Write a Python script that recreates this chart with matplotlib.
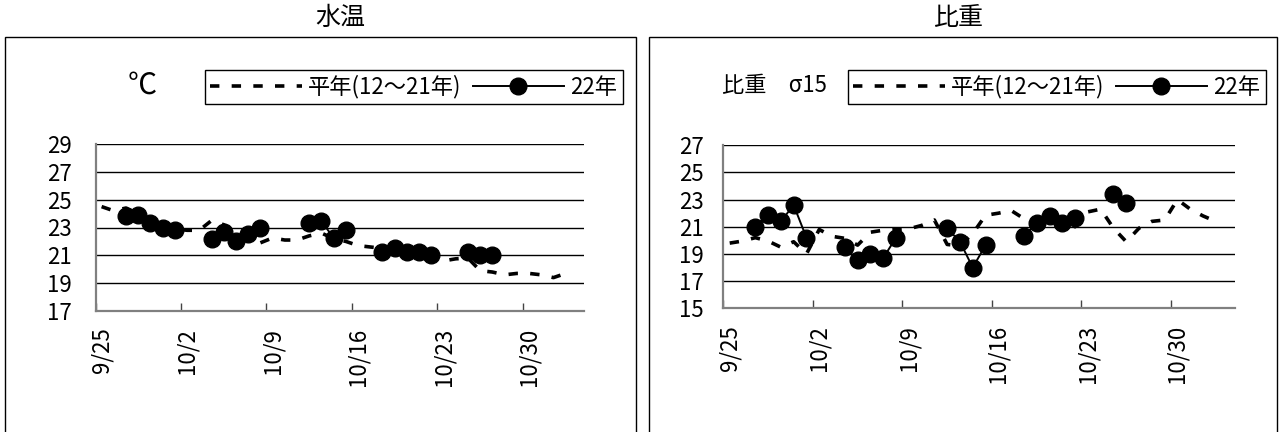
import numpy as np
import matplotlib
matplotlib.use("Agg")
import matplotlib.pyplot as plt
from matplotlib.patches import Rectangle

plt.rcParams['font.family'] = ['Noto Sans CJK JP', 'DejaVu Sans']

# days counted from 9/25 (0) to 11/2 (38)
n_days = 39
tick_days = [0, 7, 14, 21, 28, 35]
tick_labels = ['9/25', '10/2', '10/9', '10/16', '10/23', '10/30']

# 水温 (℃)
temp_avg = [24.5, 24.2, 24.4, 24.0, 23.5, 23.1, 22.9, 22.8, 22.8, 23.5,
            23.2, 22.6, 22.1, 21.9, 22.25, 22.1, 22.1, 22.4, 22.6, 22.2,
            22.0, 21.7, 21.6, 21.5, 21.4, 21.2, 21.0, 20.7, 20.6, 20.75,
            20.8, 19.9, 19.8, 19.6, 19.7, 19.7, 19.6, 19.4, 19.7]
temp_obs_days = [2, 3, 4, 5, 6, 9, 10, 11, 12, 13, 17, 18, 19, 20,
                 23, 24, 25, 26, 27, 30, 31, 32]
temp_obs = [23.8, 23.9, 23.3, 23.0, 22.8, 22.2, 22.7, 22.0, 22.55, 23.0,
            23.3, 23.45, 22.25, 22.85, 21.25, 21.55, 21.25, 21.25, 21.0,
            21.25, 21.0, 21.0]

# 比重 σ15
dens_avg = [19.8, 19.95, 20.2, 19.95, 19.5, 19.9, 19.0, 20.8, 20.3, 20.15,
            19.65, 20.6, 20.75, 20.8, 20.85, 21.1, 21.5, 19.7, 19.6, 20.5,
            21.85, 22.0, 22.2, 21.6, 21.5, 21.4, 21.5, 21.0, 22.1, 22.3,
            20.9, 19.9, 20.9, 21.4, 21.5, 23.0, 22.3, 21.8, 21.4]
dens_obs_days = [2, 3, 4, 5, 6, 9, 10, 11, 12, 13, 17, 18, 19, 20,
                 23, 24, 25, 26, 27, 30, 31]
dens_obs = [21.0, 21.9, 21.4, 22.6, 20.2, 19.5, 18.55, 19.0, 18.7, 20.2,
            20.9, 19.9, 18.0, 19.65, 20.3, 21.3, 21.8, 21.25, 21.65,
            23.45, 22.75]

W, H = 1281, 432
fig = plt.figure(figsize=(W / 100, H / 100), dpi=100)

FS = 16


def fx(px):
    return px / W


def fy(py):
    return 1 - py / H


def panel(box, axbox, avg, obs_days, obs, yticks, title, title_x,
          unit, unit_x, unit_fs, leg_center, ypad):
    # outer frame of each chart
    bx0, by0, bx1 = box
    fig.add_artist(Rectangle((fx(bx0), fy(by0 + 420)), fx(bx1 - bx0), 420 / H,
                             transform=fig.transFigure, fill=False,
                             edgecolor='black', linewidth=1.0))
    fig.text(fx(title_x), fy(18), title, ha='center', va='center',
             fontsize=18)
    fig.text(fx(unit_x), fy(86), unit, ha='left', va='center',
             fontsize=unit_fs)

    l, t, r, b = axbox
    ax = fig.add_axes([fx(l), fy(b), fx(r - l), (b - t) / H])
    x = np.arange(n_days) + 0.5
    y_obs = np.full(n_days, np.nan)
    y_obs[obs_days] = obs

    ax.plot(x, avg, color='black', linewidth=2.6, linestyle=(0, (2.6, 3.4)),
            dash_capstyle='butt', label='平年(12～21年)', zorder=3)
    ax.plot(x, y_obs, color='black', linewidth=1.4, marker='o',
            markersize=12, label='22年', zorder=4)

    ax.set_xlim(0, 40)
    ax.set_ylim(yticks[0], yticks[-1])
    ax.set_yticks(yticks)
    ax.set_yticklabels([str(v) for v in yticks], fontsize=FS)
    ax.tick_params(axis='y', length=0, pad=ypad)
    ax.yaxis.grid(True, color='black', linewidth=1.0)
    ax.set_axisbelow(True)

    ax.set_xticks(tick_days)
    ax.set_xticklabels([])
    ax.set_xticks([d + 0.5 for d in tick_days], minor=True)
    ax.set_xticklabels(tick_labels, minor=True, rotation=90, fontsize=FS,
                       va='top')
    ax.tick_params(axis='x', which='major', direction='in', length=6,
                   width=1.0, color='#444444')
    ax.tick_params(axis='x', which='minor', length=0, pad=12)

    for s in ['top', 'right']:
        ax.spines[s].set_visible(False)
    for s in ['left', 'bottom']:
        ax.spines[s].set_color('#808080')
        ax.spines[s].set_linewidth(1.6)

    leg = ax.legend(loc='center', ncol=2, fontsize=FS, frameon=True,
                    fancybox=False, edgecolor='black', framealpha=1,
                    bbox_to_anchor=(fx(leg_center[0]), fy(leg_center[1])),
                    bbox_transform=fig.transFigure, handlelength=4.1,
                    handletextpad=0.3, columnspacing=0.5, borderpad=0.25,
                    borderaxespad=0)
    leg.get_frame().set_linewidth(1.0)
    return ax


panel((5, 37, 636), (95.5, 144, 584, 311), temp_avg, temp_obs_days, temp_obs,
      [17, 19, 21, 23, 25, 27, 29], '水温', 340, '℃', 128, 21,
      (414, 87), 17)
panel((649, 37, 1277), (723.3, 145.3, 1235, 308.3), dens_avg, dens_obs_days,
      dens_obs, [15, 17, 19, 21, 23, 25, 27], '比重', 958, '比重　σ15', 722, 16,
      (1057, 87), 14)

fig.savefig('out.png', dpi=100)
